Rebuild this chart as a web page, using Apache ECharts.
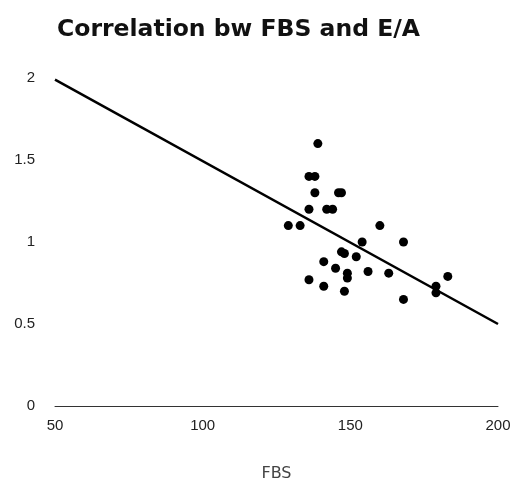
<!DOCTYPE html>
<html>
<head>
<meta charset="utf-8">
<script src="https://cdn.jsdelivr.net/npm/echarts@6/dist/echarts.min.js"></script>
<style>
  html, body { margin: 0; padding: 0; background: #fff; }
  #chart { width: 512px; height: 479px; }
</style>
</head>
<body>
<div id="chart"></div>
<script>
// FBS (x) vs E/A ratio (y)
const fbs = [139, 136, 138, 138, 146, 147, 136, 142, 144, 129, 133, 160, 154, 168,
  147, 148, 152, 141, 145, 149, 149, 156, 163, 183, 136, 141, 179, 179, 148, 168];
const ea = [1.6, 1.4, 1.4, 1.3, 1.3, 1.3, 1.2, 1.2, 1.2, 1.1, 1.1, 1.1, 1.0, 1.0,
  0.94, 0.93, 0.91, 0.88, 0.84, 0.81, 0.78, 0.82, 0.81, 0.79, 0.77, 0.73, 0.73, 0.69, 0.7, 0.65];

// trend line end points
const trendX = [50, 200];
const trendY = [1.99, 0.5];

const xTicks = [50, 100, 150, 200];
const yTicks = [0, 0.5, 1, 1.5, 2];

const chart = echarts.init(document.getElementById('chart'));
chart.setOption({
  animation: false,
  title: {
    text: 'Correlation bw FBS and E/A',
    left: 52,
    top: 13,
    textStyle: { fontFamily: 'DejaVu Sans', fontSize: 23.5, fontWeight: 'bold', color: '#111' }
  },
  grid: { left: 55, right: 14, top: 78, bottom: 73, containLabel: false, outerBoundsMode: 'none' },
  xAxis: {
    type: 'value',
    min: xTicks[0],
    max: xTicks[xTicks.length - 1],
    interval: 50,
    name: 'FBS',
    nameLocation: 'middle',
    nameGap: 60,
    nameTextStyle: { fontFamily: 'DejaVu Sans', fontSize: 16, color: '#444' },
    axisLine: { lineStyle: { color: '#333', width: 1 } },
    axisTick: { show: false },
    splitLine: { show: false },
    axisLabel: { fontFamily: 'Liberation Sans', fontSize: 15, color: '#222', margin: 12 }
  },
  yAxis: {
    type: 'value',
    min: yTicks[0],
    max: yTicks[yTicks.length - 1],
    interval: 0.5,
    axisLine: { show: false },
    axisTick: { show: false },
    splitLine: { show: false },
    axisLabel: { fontFamily: 'Liberation Sans', fontSize: 15, color: '#222', margin: 20 }
  },
  series: [
    {
      type: 'line',
      data: trendX.map((x, i) => [x, trendY[i]]),
      symbol: 'none',
      lineStyle: { color: '#000', width: 2.5 },
      z: 1
    },
    {
      type: 'scatter',
      data: fbs.map((x, i) => [x, ea[i]]),
      symbolSize: 9,
      itemStyle: { color: '#000', opacity: 1 },
      z: 2
    }
  ]
});
</script>
</body>
</html>
